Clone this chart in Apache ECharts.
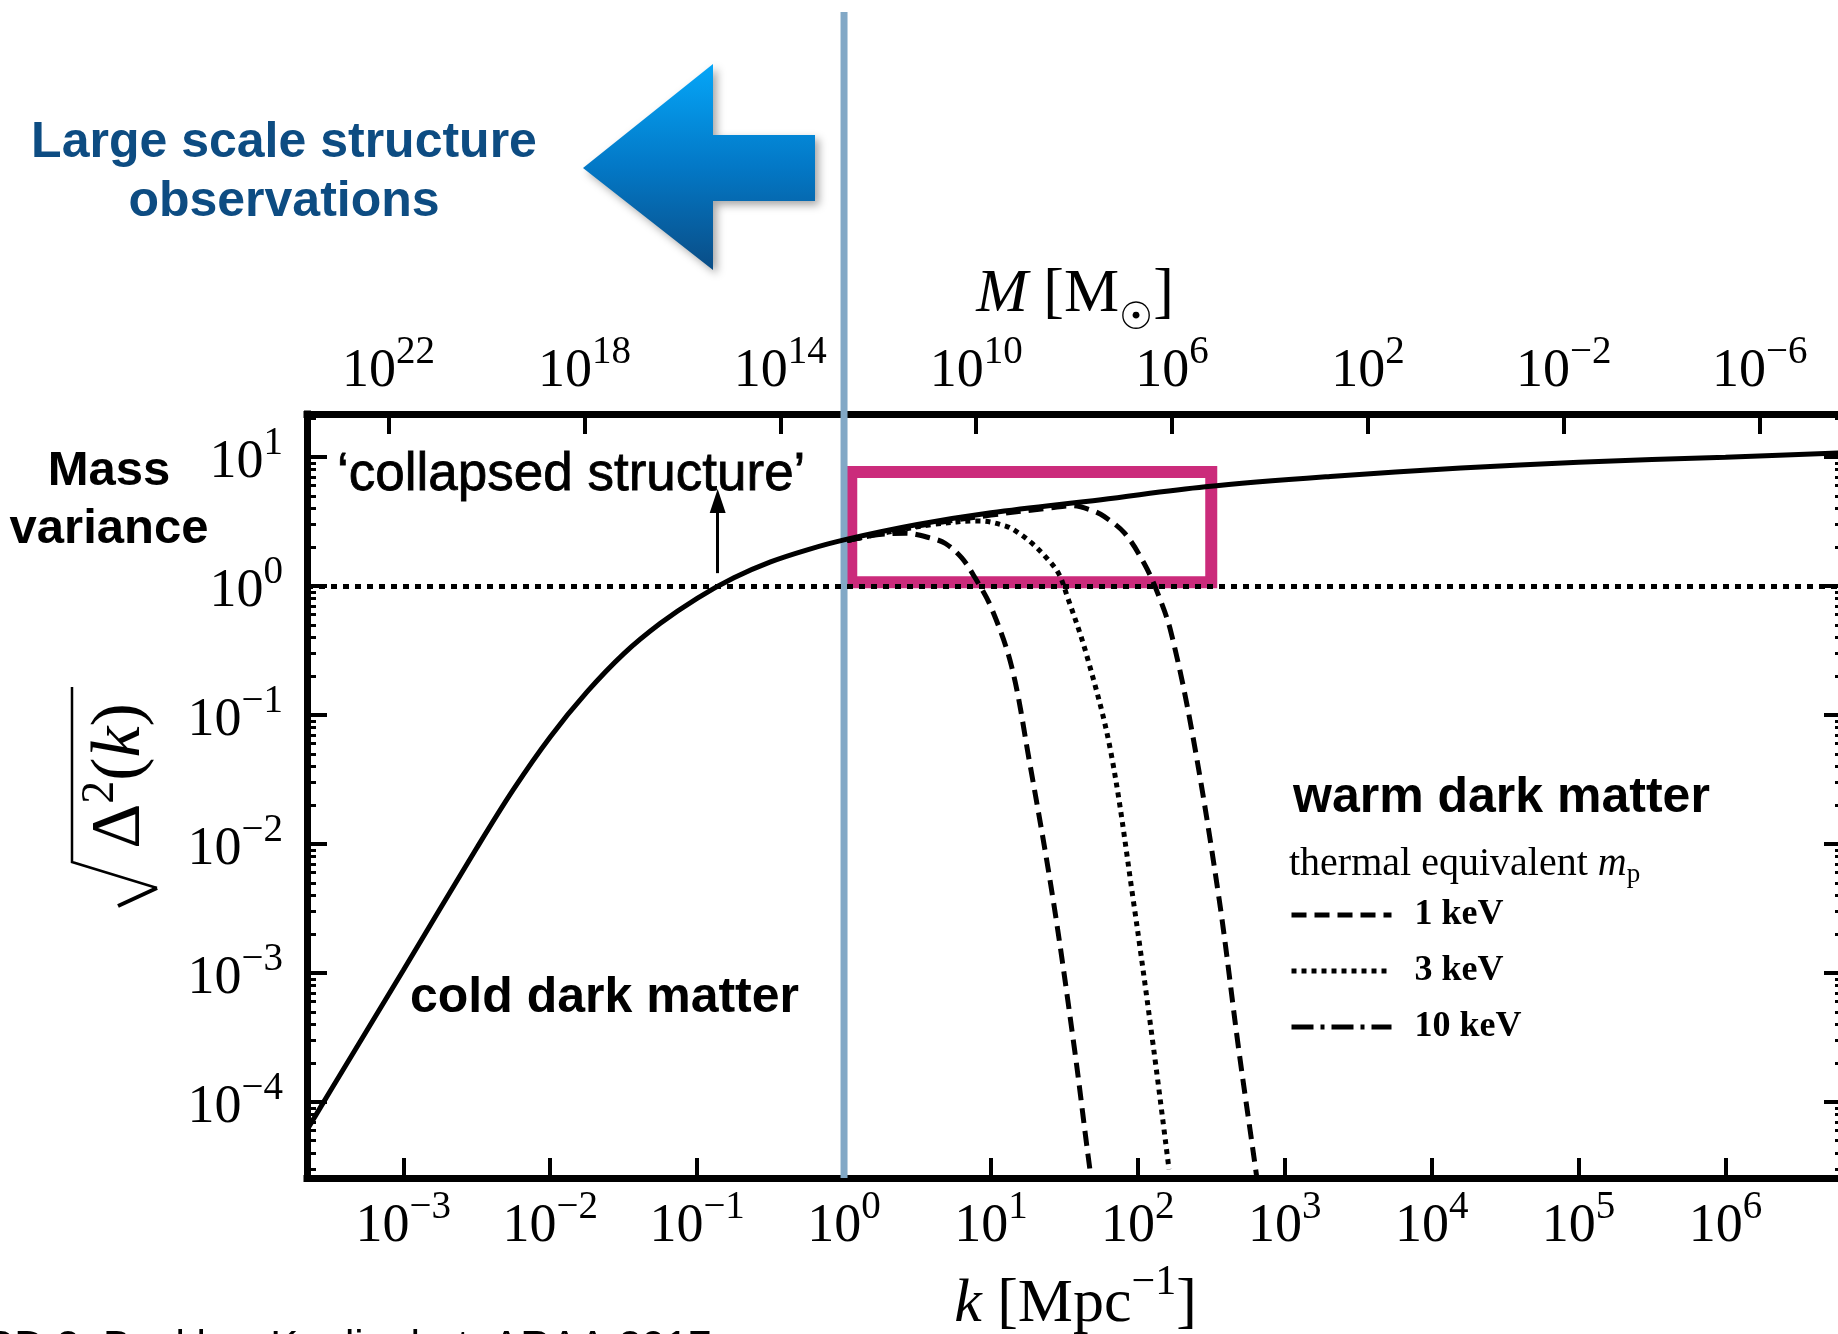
<!DOCTYPE html>
<html>
<head>
<meta charset="utf-8">
<script src="https://cdn.jsdelivr.net/npm/echarts@6/dist/echarts.min.js"></script>
<style>
html, body { margin: 0; padding: 0; background: #fff; }
#main { width: 1838px; height: 1334px; }
</style>
</head>
<body>
<div id="main"></div>
<script>
// k in Mpc^-1, amplitude = sqrt(Delta^2(k))
var cdmK   = [2.2e-4, 3.16e-4, 1e-3, 3.16e-3, 5.62e-3, 0.01, 0.0178, 0.0316, 0.0562, 0.1, 0.178, 0.316, 0.562, 1, 3.16, 10, 56.2, 288, 2040, 15800, 1e5, 1e6, 6.5e6];
var cdmAmp = [6.0e-5, 1.2e-4, 1.05e-3, 9.3e-3, 0.0265, 0.0676, 0.151, 0.298, 0.514, 0.804, 1.16, 1.54, 1.91, 2.28, 3.0, 3.70, 4.68, 5.89, 7.08, 8.22, 9.12, 10.0, 10.8];

var wdm1K   = [1.05, 1.58, 2.63, 3.98, 4.9, 6.31, 7.76, 10, 13.8, 18.2, 26.5, 37, 48, 52];
var wdm1Amp = [2.25, 2.48, 2.57, 2.34, 2.14, 1.66, 1.17, 0.69, 0.24, 0.045, 3.7e-3, 2.6e-4, 2.6e-5, 1.6e-5];

var wdm3K   = [1.05, 2.0, 3.98, 8.32, 12.6, 15.5, 19.1, 23.4, 28.8, 33.1, 44.5, 65, 93, 128, 163];
var wdm3Amp = [2.25, 2.62, 3.0, 3.2, 2.92, 2.57, 2.14, 1.70, 1.26, 0.83, 0.30, 0.054, 3.7e-3, 2.6e-4, 3.0e-5];

var wdm10K   = [1.05, 3.16, 10, 25.7, 35.5, 47.9, 58.9, 81.3, 110, 136, 168, 235, 358, 485, 645, 680];
var wdm10Amp = [2.25, 2.92, 3.55, 4.05, 4.2, 3.89, 3.47, 2.57, 1.51, 0.89, 0.44, 0.072, 3.7e-3, 2.6e-4, 2.6e-5, 1.6e-5];

var kTicks = [1e-3, 1e-2, 1e-1, 1, 10, 100, 1e3, 1e4, 1e5, 1e6];
var ampTicks = [1e-4, 1e-3, 1e-2, 1e-1, 1, 10];
var massTicks = [1e22, 1e18, 1e14, 1e10, 1e6, 1e2, 1e-2, 1e-6];

var kRange = [2.21e-4, 6.41e6];
var ampRange = [2.57e-5, 21.6];
var massAtK1 = 5.0e12;            // M at k = 1 Mpc^-1, M ~ k^-3
var boxK = [1.12, 316], boxAmp = [1.07, 7.66];
var arrowK = 0.138, arrowAmp = [1.26, 4.57];
var collapseAmp = 1;
var lssK = 1;

// minor ticks 2..9 x 10^n
var ampMinor = [];
for (var d = -5; d <= 1; d++) {
	for (var m = 2; m <= 9; m++) ampMinor.push(m * Math.pow(10, d));
}

var SERIF = "'Liberation Serif', 'DejaVu Serif', serif";
var SANS = "'Liberation Sans', Arial, sans-serif";

function zip(a, b) {
	return a.map(function(v, i) { return [v, b[i]]; });
}

function powLabel(v) {
	var e = Math.round(Math.log10(v));
	return '{b|10}{s|' + (e < 0 ? '\u2212' + (-e) : e) + '}';
}

var tickRich = {
	b: { fontFamily: SERIF, fontSize: 54, lineHeight: 66, verticalAlign: 'bottom', color: '#000' },
	s: { fontFamily: SERIF, fontSize: 39, lineHeight: 39, verticalAlign: 'top', color: '#000' }
};

var frame = { show: true, onZero: false, lineStyle: { color: '#000', width: 7, cap: 'square' } };

var myChart = echarts.init(document.getElementById('main'));

var option = {
	animation: false,
	backgroundColor: '#fff',
	grid: { left: 307, top: 414, right: -6, bottom: 156, containLabel: false, outerBoundsMode: 'none' },
	legend: {
		data: [
			{ name: '1 keV' },
			{ name: '3 keV' },
			{ name: '10 keV', lineStyle: { type: [22, 7, 4, 7] } }
		],
		orient: 'vertical',
		left: 1289,
		top: 897,
		padding: 0,
		itemWidth: 100,
		itemHeight: 14,
		itemGap: 20,
		selectedMode: false,
		itemStyle: { opacity: 0 },
		lineStyle: { color: '#000', width: 5 },
		textStyle: { fontFamily: SERIF, fontWeight: 'bold', fontSize: 36, color: '#000', padding: [0, 0, 0, 18] }
	},
	xAxis: [{
		type: 'log', logBase: 10, position: 'bottom',
		min: kRange[0], max: kRange[1],
		axisLine: frame,
		axisTick: { inside: true, length: 20, lineStyle: { color: '#000', width: 4 }, customValues: kTicks },
		axisLabel: { margin: 10, formatter: powLabel, rich: tickRich, customValues: kTicks },
		splitLine: { show: false },
		name: '{i|k}{n| [Mpc}{s|\u22121}{n|]}',
		nameLocation: 'middle', nameGap: 84, nameMoveOverlap: false,
		nameTextStyle: {
			rich: {
				i: { fontFamily: SERIF, fontStyle: 'italic', fontSize: 62, lineHeight: 74, verticalAlign: 'bottom', color: '#000' },
				n: { fontFamily: SERIF, fontSize: 62, lineHeight: 74, verticalAlign: 'bottom', color: '#000' },
				s: { fontFamily: SERIF, fontSize: 42, lineHeight: 42, verticalAlign: 'top', color: '#000' }
			}
		}
	}, {
		type: 'log', logBase: 10, position: 'top', inverse: true,
		min: massAtK1 / Math.pow(kRange[1], 3), max: massAtK1 / Math.pow(kRange[0], 3),
		axisLine: frame,
		axisTick: { inside: true, length: 20, lineStyle: { color: '#000', width: 4 }, customValues: massTicks },
		axisLabel: { margin: 15, formatter: powLabel, rich: tickRich, customValues: massTicks },
		splitLine: { show: false }
	}],
	yAxis: [{
		type: 'log', logBase: 10, position: 'left',
		min: ampRange[0], max: ampRange[1],
		axisLine: frame,
		axisTick: { inside: true, length: 20, lineStyle: { color: '#000', width: 4 }, customValues: ampTicks },
		axisLabel: { margin: 24, formatter: powLabel, rich: tickRich, customValues: ampTicks },
		splitLine: { show: false }
	}, {
		type: 'log', logBase: 10, position: 'left',
		min: ampRange[0], max: ampRange[1],
		axisLine: { show: false },
		axisTick: { inside: true, length: 9, lineStyle: { color: '#000', width: 3 }, customValues: ampMinor },
		axisLabel: { show: false },
		splitLine: { show: false }
	}, {
		type: 'log', logBase: 10, position: 'right',
		min: ampRange[0], max: ampRange[1],
		axisLine: frame,
		axisTick: { inside: true, length: 20, lineStyle: { color: '#000', width: 4 }, customValues: ampTicks },
		axisLabel: { show: false },
		splitLine: { show: false }
	}, {
		type: 'log', logBase: 10, position: 'right',
		min: ampRange[0], max: ampRange[1],
		axisLine: { show: false },
		axisTick: { inside: true, length: 9, lineStyle: { color: '#000', width: 3 }, customValues: ampMinor },
		axisLabel: { show: false },
		splitLine: { show: false }
	}],
	series: [{
		name: 'cold dark matter',
		type: 'line',
		data: zip(cdmK, cdmAmp),
		symbol: 'none',
		smooth: 0.35,
		color: '#000',
		lineStyle: { color: '#000', width: 5 },
		z: 3,
		markLine: {
			silent: true,
			animation: false,
			symbol: ['none', 'none'],
			label: { show: false },
			emphasis: { disabled: true },
			data: [
				{ yAxis: collapseAmp, lineStyle: { color: '#000', width: 5, type: [6, 6] } },
				[
					{ coord: [arrowK, arrowAmp[0]], symbol: 'none', lineStyle: { color: '#000', width: 3, type: 'solid' } },
					{ coord: [arrowK, arrowAmp[1]], symbol: 'triangle', symbolSize: [16, 24], lineStyle: { color: '#000', width: 3, type: 'solid' } }
				]
			]
		}
	}, {
		name: '1 keV',
		type: 'line',
		data: zip(wdm1K, wdm1Amp),
		symbol: 'none',
		smooth: 0.35,
		color: '#000',
		lineStyle: { color: '#000', width: 5, type: [15, 8] },
		z: 4
	}, {
		name: '3 keV',
		type: 'line',
		data: zip(wdm3K, wdm3Amp),
		symbol: 'none',
		smooth: 0.35,
		color: '#000',
		lineStyle: { color: '#000', width: 5, type: [5, 5] },
		z: 4
	}, {
		name: '10 keV',
		type: 'line',
		data: zip(wdm10K, wdm10Amp),
		symbol: 'none',
		smooth: 0.35,
		color: '#000',
		lineStyle: { color: '#000', width: 5, type: [15, 8] },
		z: 4
	}, {
		name: 'box',
		type: 'line',
		data: [],
		z: 10,
		markArea: {
			silent: true,
			itemStyle: { color: 'rgba(0,0,0,0)', borderColor: '#cb2b7b', borderWidth: 12 },
			label: { show: false },
			data: [[{ coord: [boxK[0], boxAmp[0]] }, { coord: [boxK[1], boxAmp[1]] }]]
		}
	}]
};

myChart.setOption(option);

// annotations outside / on top of the plot
var lssX = myChart.convertToPixel({ xAxisIndex: 0 }, lssK);
var bottomY = myChart.convertToPixel({ yAxisIndex: 0 }, ampRange[0]);

myChart.setOption({
	graphic: [{
		type: 'line', id: 'lss', z: 1,
		shape: { x1: lssX, y1: 12, x2: lssX, y2: bottomY },
		style: { stroke: '#82a8c6', lineWidth: 7 }
	}, {
		type: 'polygon', id: 'arrow',
		shape: { points: [[583, 168], [713, 64], [713, 135], [815, 135], [815, 201], [713, 201], [713, 270]] },
		style: {
			fill: new echarts.graphic.LinearGradient(0, 0, 0, 1, [
				{ offset: 0, color: '#05a6f8' },
				{ offset: 0.5, color: '#0378c6' },
				{ offset: 1, color: '#0a4d86' }
			]),
			shadowBlur: 8, shadowOffsetX: 4, shadowOffsetY: 4, shadowColor: 'rgba(0,0,0,0.35)'
		}
	}, {
		type: 'text', id: 'massName',
		x: 1075, y: 301,
		style: {
			text: '{i|M}{n| [M}{s|\u2609}{n|]}',
			rich: {
				i: { fontFamily: SERIF, fontStyle: 'italic', fontSize: 62, lineHeight: 74, verticalAlign: 'top', fill: '#000' },
				n: { fontFamily: SERIF, fontSize: 62, lineHeight: 74, verticalAlign: 'top', fill: '#000' },
				s: { fontFamily: "'DejaVu Serif', serif", fontSize: 38, lineHeight: 38, verticalAlign: 'bottom', fill: '#000' }
			},
			textAlign: 'center', align: 'center', textVerticalAlign: 'middle', verticalAlign: 'middle'
		}
	}, {
		type: 'text', id: 'lssText',
		x: 284, y: 173,
		style: {
			text: 'Large scale structure\nobservations',
			font: 'bold 50px ' + SANS, fill: '#0d4c82',
			lineHeight: 59,
			textAlign: 'center', align: 'center', textVerticalAlign: 'middle', verticalAlign: 'middle'
		}
	}, {
		type: 'text', id: 'massVar',
		x: 109, y: 500,
		style: {
			text: 'Mass\nvariance',
			font: 'bold 49px ' + SANS, fill: '#000',
			lineHeight: 58,
			textAlign: 'center', align: 'center', textVerticalAlign: 'middle', verticalAlign: 'middle'
		}
	}, {
		type: 'text', id: 'collapsed', z: 20,
		x: 337, y: 475,
		style: {
			text: '\u2018collapsed structure\u2019',
			font: '53px ' + SANS, fill: '#000', stroke: '#000', lineWidth: 0.8,
			textAlign: 'left', align: 'left', textVerticalAlign: 'middle', verticalAlign: 'middle'
		}
	}, {
		type: 'text', id: 'cdm', z: 20,
		x: 410, y: 998,
		style: {
			text: 'cold dark matter',
			font: 'bold 50px ' + SANS, fill: '#000',
			textAlign: 'left', align: 'left', textVerticalAlign: 'middle', verticalAlign: 'middle'
		}
	}, {
		type: 'text', id: 'wdm', z: 20,
		x: 1293, y: 798,
		style: {
			text: 'warm dark matter',
			font: 'bold 50px ' + SANS, fill: '#000',
			textAlign: 'left', align: 'left', textVerticalAlign: 'middle', verticalAlign: 'middle'
		}
	}, {
		type: 'text', id: 'thermal', z: 20,
		x: 1289, y: 866,
		style: {
			text: '{n|thermal equivalent }{i|m}{p|p}',
			rich: {
				n: { fontFamily: SERIF, fontSize: 40, lineHeight: 44, verticalAlign: 'top', fill: '#000' },
				i: { fontFamily: SERIF, fontStyle: 'italic', fontSize: 40, lineHeight: 44, verticalAlign: 'top', fill: '#000' },
				p: { fontFamily: SERIF, fontSize: 27, lineHeight: 27, verticalAlign: 'bottom', fill: '#000' }
			},
			textAlign: 'left', align: 'left', textVerticalAlign: 'middle', verticalAlign: 'middle'
		}
	}, {
		type: 'text', id: 'ylabel',
		x: 117, y: 776, rotation: Math.PI / 2,
		style: {
			text: '{d|\u0394}{s|2}{n|(}{i|k}{n|)}',
			rich: {
				d: { fontFamily: SERIF, fontSize: 70, lineHeight: 78, verticalAlign: 'bottom', fill: '#000' },
				n: { fontFamily: SERIF, fontSize: 70, lineHeight: 78, verticalAlign: 'bottom', fill: '#000' },
				i: { fontFamily: SERIF, fontStyle: 'italic', fontSize: 70, lineHeight: 78, verticalAlign: 'bottom', fill: '#000' },
				s: { fontFamily: SERIF, fontSize: 46, lineHeight: 46, verticalAlign: 'top', fill: '#000' }
			},
			textAlign: 'center', align: 'center', textVerticalAlign: 'middle', verticalAlign: 'middle'
		}
	}, {
		type: 'polyline', id: 'radical',
		shape: { points: [[72, 687], [72, 862], [157, 888]] },
		style: { stroke: '#000', lineWidth: 2.5, fill: null }
	}, {
		type: 'polyline', id: 'radical2',
		shape: { points: [[157, 888], [118, 906]] },
		style: { stroke: '#000', lineWidth: 4, fill: null }
	}, {
		type: 'text', id: 'cite',
		x: -16, y: 1348,
		style: {
			text: 'RD 2: Buckley, Kaplinghat, ARAA 2017',
			font: '42px ' + SANS, fill: '#000',
			textAlign: 'left', align: 'left', textVerticalAlign: 'middle', verticalAlign: 'middle'
		}
	}]
});
</script>
</body>
</html>
